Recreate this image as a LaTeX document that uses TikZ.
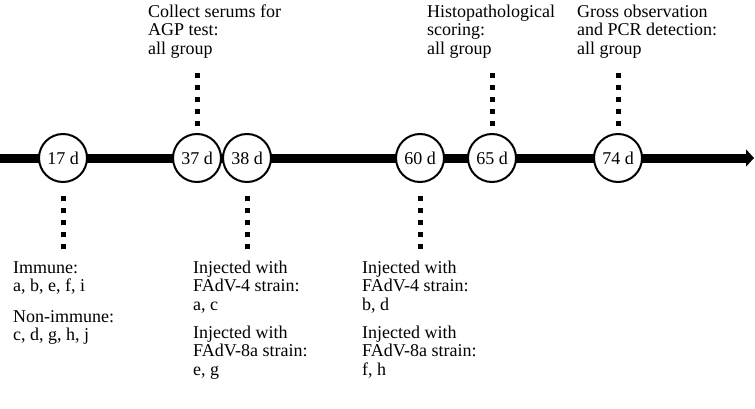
\documentclass[tikz,border=0pt]{standalone}
\usepackage{fontspec}
\setmainfont{Liberation Serif}
\usetikzlibrary{arrows.meta}
\begin{document}
\begin{tikzpicture}[x=1pt,y=1pt,
  day/.style={circle,draw=black,line width=2pt,fill=white,minimum size=48pt,inner sep=0pt,font=\fontsize{18pt}{18.5pt}\selectfont},
  note/.style={anchor=north west,inner sep=0pt,align=left,font=\fontsize{18pt}{18.5pt}\selectfont},
  dotline/.style={line width=5pt,dash pattern=on 5pt off 7pt},
  axisline/.style={line width=9pt,-{Triangle[length=8pt,width=17pt]}}]
\useasboundingbox (0,0) rectangle (755,408);
\coordinate (start) at (0,250);
\coordinate (end) at (754,250);
\draw[axisline] (start) -- (end);

\node[day] (c17) at (63,250) {17 d};
\node[day] (c37) at (197,250) {37 d};
\node[day] (c38) at (247,250) {38 d};
\node[day] (c60) at (420,250) {60 d};
\node[day] (c65) at (492,250) {65 d};
\node[day] (c74) at (618,250) {74 d};

\draw[dotline] ([yshift=7pt]c37.north) -- ++(0,53);
\draw[dotline] ([yshift=7pt]c65.north) -- ++(0,53);
\draw[dotline] ([yshift=7pt]c74.north) -- ++(0,53);
\draw[dotline] ([yshift=-13pt]c17.south) -- ++(0,-53);
\draw[dotline] ([yshift=-13pt]c38.south) -- ++(0,-53);
\draw[dotline] ([yshift=-13pt]c60.south) -- ++(0,-53);

\node[note] (t37) at (148,403.6) {Collect serums for\\AGP test:\\all group};
\node[note] (t65) at (427,403.6) {Histopathological\\scoring:\\all group};
\node[note] (t74) at (577,403.6) {Gross observation\\and PCR detection:\\all group};

\node[note] (t17a) at (13,146.9) {Immune:\\a, b, e, f, i};
\node[note] (t17b) at (13,97.9) {Non-immune:\\c, d, g, h, j};
\node[note] (t38a) at (193,147.3) {Injected with\\FAdV-4 strain:\\a, c};
\node[note] (t38b) at (193,82.3) {Injected with\\FAdV-8a strain:\\e, g};
\node[note] (t60a) at (362,147.3) {Injected with\\FAdV-4 strain:\\b, d};
\node[note] (t60b) at (362,82.3) {Injected with\\FAdV-8a strain:\\f, h};
\end{tikzpicture}
\end{document}
